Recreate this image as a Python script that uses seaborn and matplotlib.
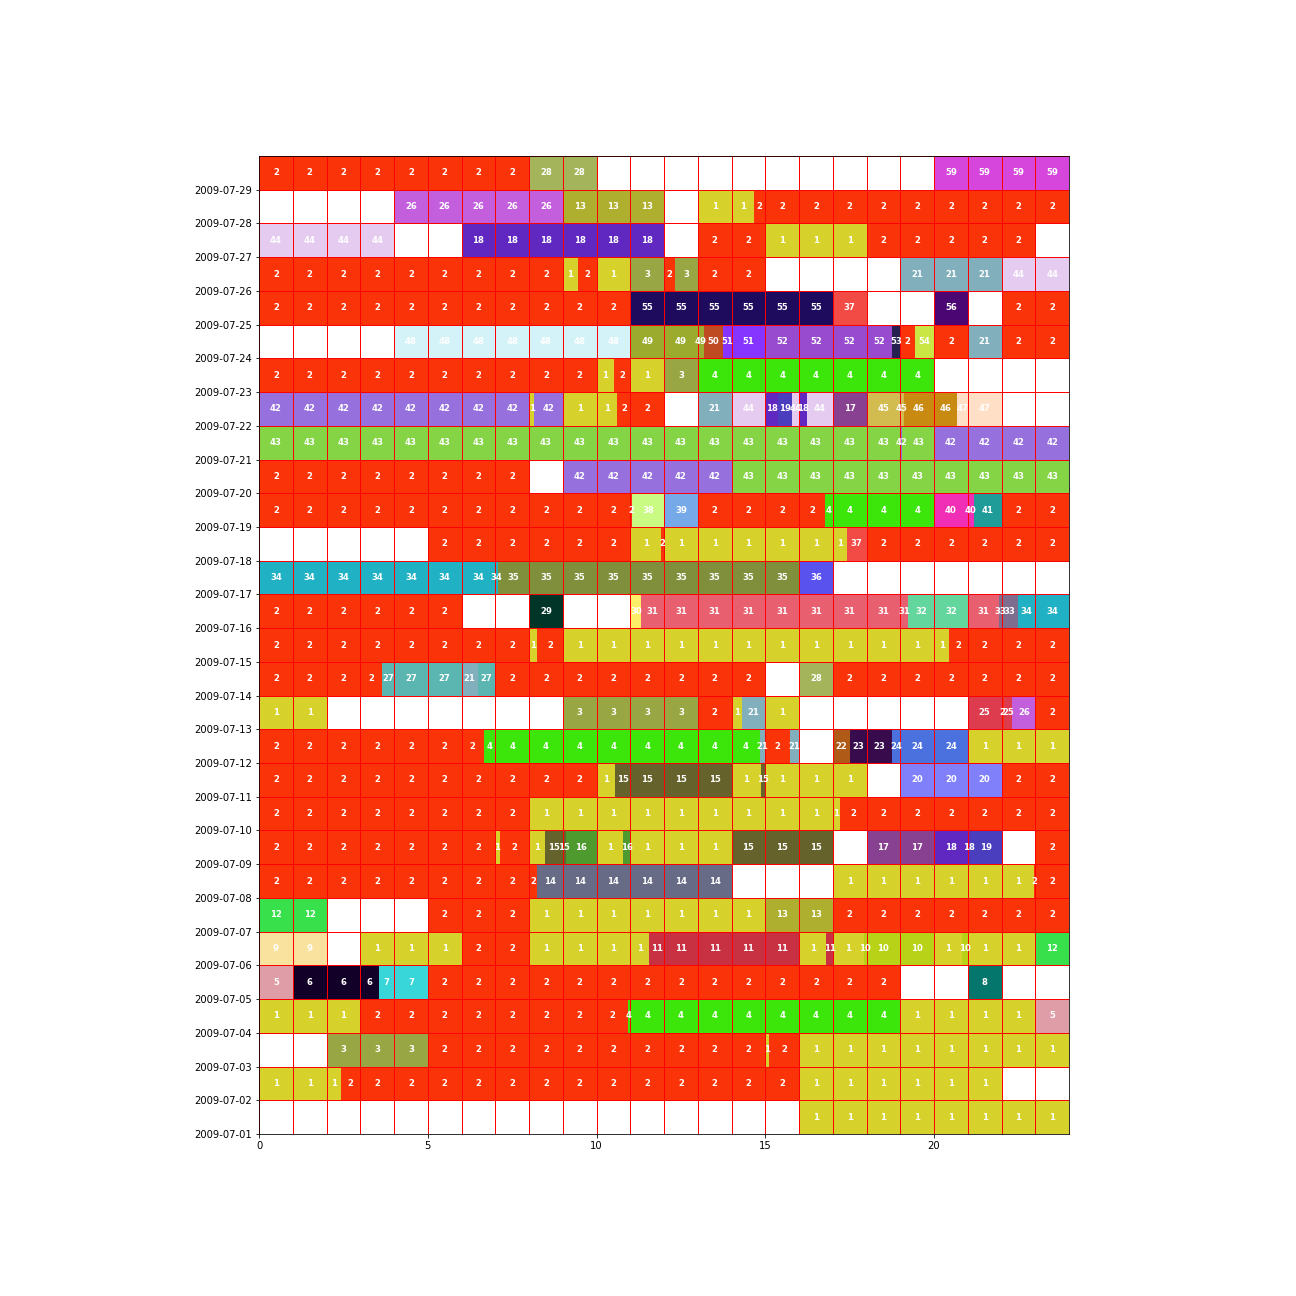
import matplotlib
matplotlib.use("Agg")
import matplotlib.pyplot as plt
import seaborn as sns

# Dates (one row per day, bottom to top)
dates = ["2009-07-%02d" % d for d in range(1, 30)]

# Each day: runs of (end_hour, activity_id); 0 = no activity
day_01 = [(16, 0), (24, 1)]
day_02 = [(2.42, 1), (16, 2), (22, 1), (24, 0)]
day_03 = [(2, 0), (5, 3), (15, 2), (15.1, 1), (16, 2), (24, 1)]
day_04 = [(3, 1), (10.93, 2), (19, 4), (23, 1), (24, 5)]
day_05 = [(1, 5), (3.55, 6), (5, 7), (19, 2), (21, 0), (22, 8), (24, 0)]
day_06 = [(2, 9), (3, 0), (6, 1), (8, 2), (11.57, 1), (16, 11), (16.81, 1), (17, 11),
          (17.93, 1), (20, 10), (20.83, 1), (21, 10), (23, 1), (24, 12)]
day_07 = [(2, 12), (5, 0), (8, 2), (15, 1), (17, 13), (24, 2)]
day_08 = [(8.25, 2), (14, 14), (17, 0), (22.96, 1), (24, 2)]
day_09 = [(7, 2), (7.13, 1), (8, 2), (8.47, 1), (9.1, 15), (10, 16), (10.79, 1), (11, 16),
          (14, 1), (17, 15), (18, 0), (20, 17), (21.08, 18), (22, 19), (23, 0), (24, 2)]
day_10 = [(8, 2), (17.2, 1), (24, 2)]
day_11 = [(10, 2), (10.54, 1), (14, 15), (14.87, 1), (15, 15), (18, 1), (19, 0), (22, 20), (24, 2)]
day_12 = [(6.67, 2), (14.84, 4), (15, 21), (15.74, 2), (16, 21), (17, 0), (17.5, 22),
          (18.77, 23), (21, 24), (24, 1)]
day_13 = [(2, 1), (9, 0), (13, 3), (14, 2), (14.3, 1), (15, 21), (16, 1), (21, 0), (22, 25),
          (22.06, 2), (22.32, 25), (23, 26), (24, 2)]
day_14 = [(3.64, 2), (6, 27), (6.48, 21), (7, 27), (15, 2), (16, 0), (17, 28), (24, 2)]
day_15 = [(8, 2), (8.25, 1), (9, 2), (20.45, 1), (24, 2)]
day_16 = [(6, 2), (8, 0), (9, 29), (11, 0), (11.33, 30), (19.23, 31), (21, 32), (21.93, 31),
          (22.49, 33), (24, 34)]
day_17 = [(7.09, 34), (16, 35), (17, 36), (24, 0)]
day_18 = [(5, 0), (11, 2), (11.91, 1), (12, 2), (17.42, 1), (18, 37), (24, 2)]
day_19 = [(11.06, 2), (12, 38), (13, 39), (16.77, 2), (20, 4), (21.18, 40), (22, 41), (24, 2)]
day_20 = [(8, 2), (9, 0), (14, 42), (24, 43)]
day_21 = [(19, 43), (19.06, 42), (20, 43), (24, 42)]
day_22 = [(8, 42), (8.16, 1), (9, 42), (10.62, 1), (12, 2), (13, 0), (14, 21), (15, 44),
          (15.38, 18), (15.79, 19), (16, 44), (16.24, 18), (17, 44), (18, 17), (19.1, 45),
          (20.67, 46), (22, 47), (24, 0)]
day_23 = [(10, 2), (10.52, 1), (11, 2), (12, 1), (13, 3), (20, 4), (24, 0)]
day_24 = [(4, 0), (11, 48), (13.19, 49), (13.75, 50), (15, 51), (18.77, 52), (19, 53),
          (19.43, 2), (20, 54), (21, 2), (22, 21), (24, 2)]
day_25 = [(11, 2), (17, 55), (18, 37), (20, 0), (21, 56), (22, 0), (24, 2)]
day_26 = [(9, 2), (9.44, 1), (10, 2), (11, 1), (12, 3), (12.33, 2), (13, 3), (15, 2),
          (19, 0), (22, 21), (24, 44)]
day_27 = [(4, 44), (6, 0), (12, 18), (13, 0), (15, 2), (18, 1), (23, 2), (24, 0)]
day_28 = [(4, 0), (9, 26), (12, 13), (13, 0), (14.66, 1), (24, 2)]
day_29 = [(8, 2), (10, 28), (20, 0), (24, 59)]

days = [day_01, day_02, day_03, day_04, day_05, day_06, day_07, day_08, day_09, day_10,
        day_11, day_12, day_13, day_14, day_15, day_16, day_17, day_18, day_19, day_20,
        day_21, day_22, day_23, day_24, day_25, day_26, day_27, day_28, day_29]

# Activity colours
activity_ids = [1, 2, 3, 4, 5, 6, 7, 8, 9, 10, 11, 12, 13, 14, 15, 16, 17, 18, 19, 20,
                21, 22, 23, 24, 25, 26, 27, 28, 29, 30, 31, 32, 33, 34, 35, 36, 37, 38, 39, 40,
                41, 42, 43, 44, 45, 46, 47, 48, 49, 50, 51, 52, 53, 54, 55, 56, 59]
activity_hex = ["#d6d12b", "#fa3408", "#98a744", "#3ce60a", "#df9ea7", "#120028", "#38d5d9",
                "#05766c", "#f8e29e", "#b8d317", "#c73142", "#38e04c", "#afaf2f", "#676b85",
                "#65622b", "#4e9a2f", "#884091", "#6127c1", "#4a3ebe", "#7f80fa", "#81afbb",
                "#b05a17", "#380b4d", "#4a71dd", "#dd3c4f", "#c35fdd", "#5bb5b1", "#a3b45b",
                "#003528", "#fcee67", "#e8606f", "#62d69c", "#7f6d8f", "#20b1c5", "#808f3b",
                "#5a52ef", "#f24a44", "#c9fb82", "#76a9e8", "#f12fb6", "#1f9b98", "#9670dd",
                "#84d446", "#e5cbef", "#d2bc50", "#c88a10", "#ffdfc5", "#d4f3f8", "#9aab2e",
                "#bf4b22", "#8634ff", "#994bcf", "#252050", "#c9e645", "#1e0b5e", "#4b0673",
                "#d646dc"]

palette = sns.color_palette(activity_hex)
color_of = dict(zip(activity_ids, palette))

fig = plt.figure(figsize=(18, 18), dpi=72)
ax = fig.add_axes([0.19985, 0.125, 0.625, 0.7546])

for row, runs in enumerate(days):
    start = 0.0
    for end, aid in runs:
        # split each run at whole hours
        s = start
        while s < end - 1e-9:
            e = min(end, float(int(s + 1e-9) + 1))
            if aid != 0:
                ax.barh(row + 0.5, e - s, left=s, height=1.0, color=color_of[aid],
                        edgecolor="none", linewidth=0, zorder=1)
                ax.text((s + e) / 2, row + 0.5, str(aid), ha="center", va="center",
                        color="white", fontsize=8.5, fontweight="bold", zorder=4)
            s = e
        start = end

ax.vlines(range(0, 25), 0, len(days), colors="red", linewidth=1, zorder=2)
ax.hlines(range(0, len(days) + 1), 0, 24, colors="red", linewidth=1, zorder=2)

ax.set_xlim(0, 24)
ax.set_ylim(0, len(days))
ax.set_xticks([0, 5, 10, 15, 20])
ax.set_yticks(range(len(dates)))
ax.set_yticklabels(dates)
ax.tick_params(labelsize=10)

fig.savefig("out.png", dpi=72)
